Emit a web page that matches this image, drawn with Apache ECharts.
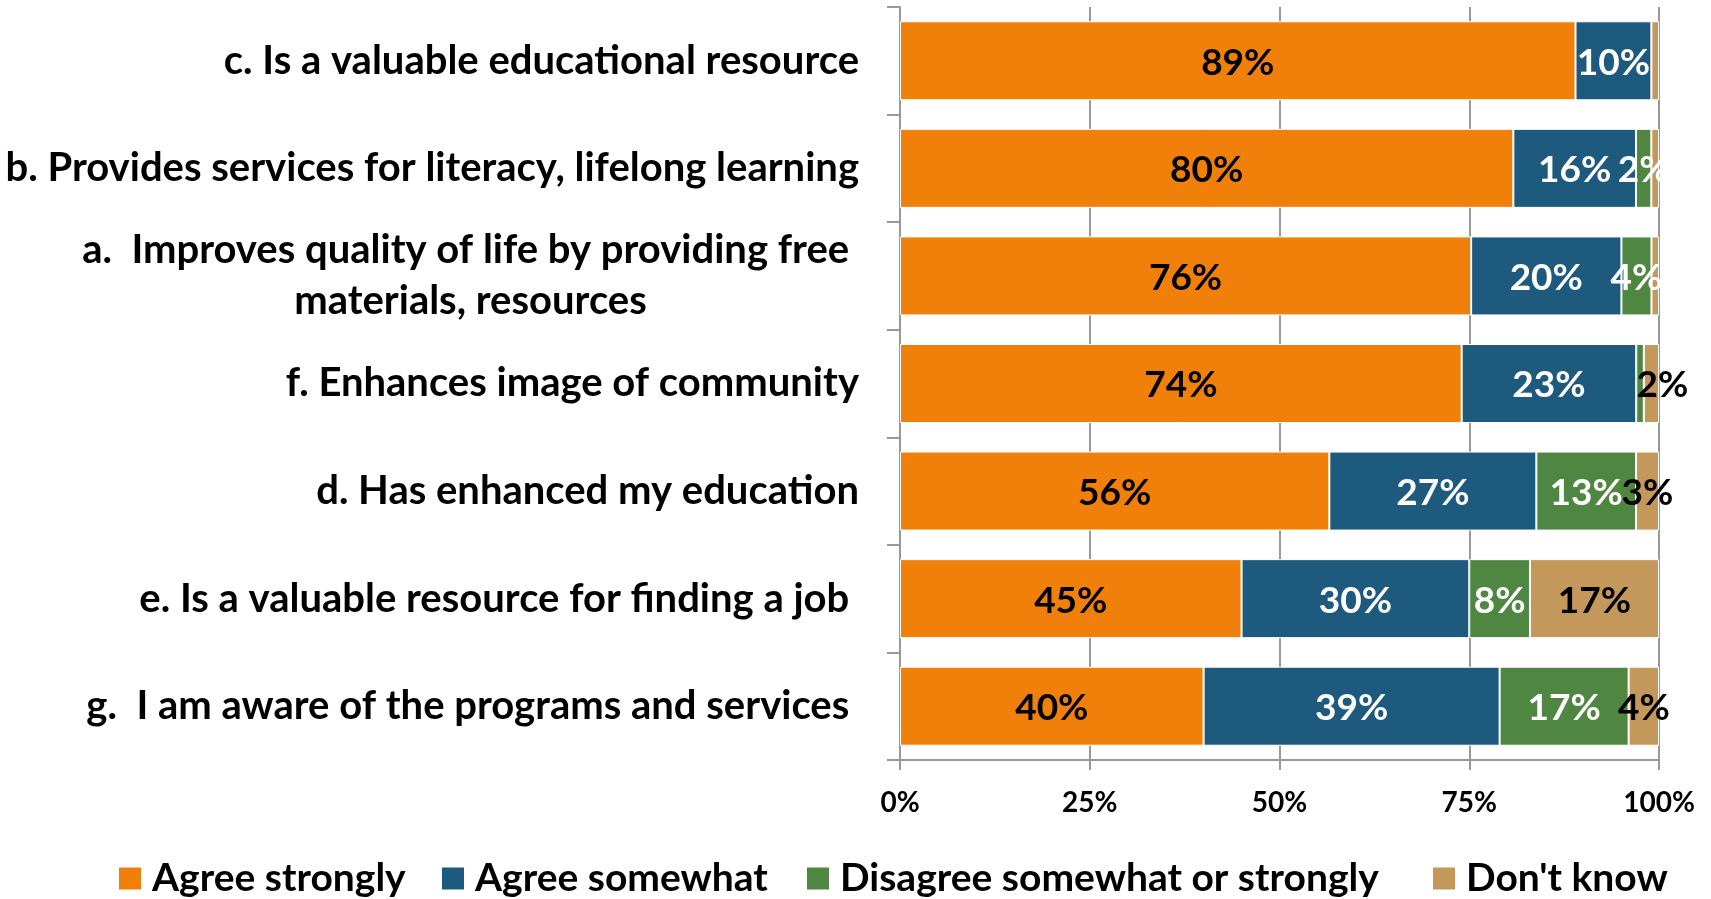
<!DOCTYPE html>
<html>
<head>
<meta charset="utf-8">
<script src="https://cdn.jsdelivr.net/npm/echarts@6/dist/echarts.min.js"></script>
<style>
  html, body { margin: 0; padding: 0; background: #ffffff; }
  #chart { width: 1711px; height: 899px; }
</style>
</head>
<body>
<div id="chart"></div>
<script>
// Survey statements, top to bottom
const categories = [
  'c. Is a valuable educational resource',
  'b. Provides services for literacy, lifelong learning',
  'a.  Improves quality of life by providing free \nmaterials, resources',
  'f. Enhances image of community',
  'd. Has enhanced my education',
  'e. Is a valuable resource for finding a job ',
  'g.  I am aware of the programs and services '
];
const seriesNames = ['Agree strongly', 'Agree somewhat', 'Disagree somewhat or strongly', "Don't know"];

// Reported percentages per response
const agreeStrongly = [89, 80, 76, 74, 56, 45, 40];
const agreeSomewhat = [10, 16, 20, 23, 27, 30, 39];
const disagree      = [0, 2, 4, 1, 13, 8, 17];
const dontKnow      = [1, 1, 1, 2, 3, 17, 4];

const xTicks = [0, 25, 50, 75, 100];

const FONT = 'Lato, "Open Sans", sans-serif';
const colors = ['#F0800A', '#1E5A7D', '#4F8742', '#C4975B'];
const labelColors = ['#000000', '#ffffff', '#ffffff', '#000000'];
const rows = [agreeStrongly, agreeSomewhat, disagree, dontKnow];

// 100% stacked: each bar row is scaled to its own total
const totals = categories.map((_, i) => rows.reduce((s, r) => s + r[i], 0));

// Width of the first line of the two-line label, so both lines can be centred in one block
const ctx = document.createElement('canvas').getContext('2d');
const CAT_SIZE = 40;
ctx.font = 'bold ' + CAT_SIZE + 'px ' + FONT;
const twoLine = categories.find(c => c.indexOf('\n') >= 0);
const blockWidth = Math.ceil(ctx.measureText(twoLine.split('\n')[0]).width);

// The narrow "Don't know" label on the community row sits slightly right of its segment
const labelNudge = { '3-3': [11, 0] };

const series = rows.map((r, k) => ({
  name: seriesNames[k],
  type: 'bar',
  stack: 'total',
  barWidth: 79,
  itemStyle: { color: colors[k], borderColor: '#ffffff', borderWidth: 1 },
  label: {
    show: true,
    position: 'inside',
    offset: [0, 2],
    color: labelColors[k],
    fontFamily: FONT,
    fontWeight: 'bold',
    fontSize: 37,
    formatter: p => (p.data.raw >= 2 ? p.data.raw + '%' : '')
  },
  emphasis: { disabled: true },
  data: r.map((v, i) => {
    const item = { value: v / totals[i] * 100, raw: v };
    const nudge = labelNudge[k + '-' + i];
    if (nudge) item.label = { offset: [nudge[0], 2 + nudge[1]] };
    return item;
  })
}));

const legendLeft = [117, 440, 805, 1431];

const option = {
  animation: false,
  backgroundColor: '#ffffff',
  grid: { left: 900, right: 52, top: 7, bottom: 139, containLabel: false },
  xAxis: {
    type: 'value',
    min: xTicks[0],
    max: xTicks[xTicks.length - 1],
    interval: 25,
    axisLine: { show: true, lineStyle: { color: '#999999', width: 2 } },
    axisTick: { show: true, length: 10, lineStyle: { color: '#999999', width: 2 } },
    splitLine: { show: true, lineStyle: { color: '#999999', width: 2 } },
    axisLabel: {
      margin: 29,
      color: '#000000',
      fontFamily: FONT,
      fontWeight: 'bold',
      fontSize: 28,
      formatter: v => v + '%'
    }
  },
  yAxis: {
    type: 'category',
    inverse: true,
    data: categories,
    axisLine: { show: true, lineStyle: { color: '#999999', width: 2 } },
    axisTick: { show: true, length: 13, lineStyle: { color: '#999999', width: 2 } },
    axisLabel: {
      margin: 41,
      color: '#000000',
      fontFamily: FONT,
      fontWeight: 'bold',
      fontSize: CAT_SIZE,
      lineHeight: 51,
      formatter: v => v.indexOf('\n') >= 0
        ? v.split('\n').map(line => '{ctr|' + line + '}').join('\n')
        : v,
      rich: {
        ctr: {
          width: blockWidth,
          align: 'center',
          color: '#000000',
          fontFamily: FONT,
          fontWeight: 'bold',
          fontSize: CAT_SIZE,
          lineHeight: 51
        }
      }
    }
  },
  legend: seriesNames.map((n, i) => ({
    data: [n],
    left: legendLeft[i],
    top: 859,
    padding: 0,
    icon: 'rect',
    itemWidth: 24,
    itemHeight: 24,
    selectedMode: false,
    textStyle: {
      color: '#000000',
      fontFamily: FONT,
      fontWeight: 'bold',
      fontSize: 39,
      padding: [0, 0, 0, 5]
    }
  })),
  series: series
};

const chart = echarts.init(document.getElementById('chart'), null, { renderer: 'canvas' });
chart.setOption(option);
</script>
</body>
</html>
